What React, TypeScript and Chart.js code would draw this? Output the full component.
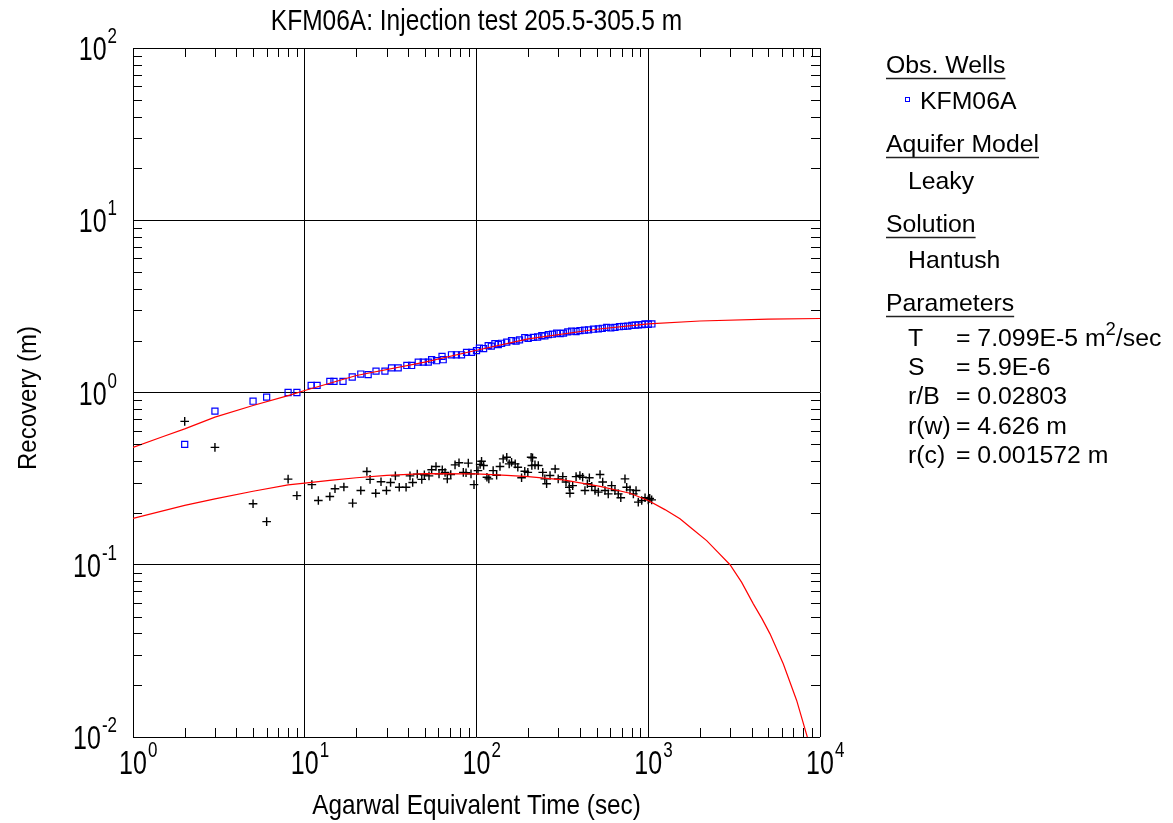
import React, { useEffect, useRef } from "react";
import { Chart, registerables } from "chart.js";

Chart.register(...registerables);

// ---------- data ----------
const obsTime = [
  2.0, 3.0, 5.0, 6.0, 8.0, 9.0, 10.9, 11.8, 14.0, 14.8, 16.7, 18.9, 21.2, 23.4, 26, 29.3, 32, 35,
  39.3, 41.9, 45.8, 49, 52.4, 54.8, 58.5, 63, 64, 71.5, 76.4, 81.8, 87.5, 93.6, 100, 104, 110, 117,
  122, 128, 134, 140, 150, 160, 170, 178, 191, 200, 214, 227, 240, 250, 262, 277, 293, 307, 321,
  340, 358, 380, 400, 425, 449, 480, 512, 540, 573, 605, 640, 680, 718, 760, 802, 840, 876, 920,
  958, 1000, 1050,
];
const obsRecovery = [
  0.5, 0.78, 0.89, 0.94, 1.0, 1.0, 1.1, 1.1, 1.16, 1.16, 1.16, 1.23, 1.28, 1.27, 1.33, 1.33, 1.39,
  1.39, 1.435, 1.435, 1.5, 1.5, 1.5, 1.55, 1.53, 1.62, 1.55, 1.655, 1.655, 1.655, 1.71, 1.71, 1.75,
  1.81, 1.8, 1.87, 1.86, 1.92, 1.9, 1.93, 1.96, 2.0, 1.99, 2.02, 2.08, 2.06, 2.09, 2.1, 2.14, 2.13,
  2.17, 2.18, 2.21, 2.2, 2.21, 2.25, 2.27, 2.26, 2.29, 2.3, 2.31, 2.33, 2.34, 2.36, 2.39, 2.37, 2.39,
  2.41, 2.42, 2.43, 2.45, 2.46, 2.47, 2.48, 2.5, 2.49, 2.5,
];

const derivTime = [
  2.0, 3.0, 5.0, 6.0, 8.0, 9.0, 11.0, 12.0, 14.0, 15.0, 16.9, 19.0, 21.2, 23.0, 24.0, 25.9, 27.8,
  29.9, 31.6, 33.7, 35.5, 38.9, 41, 42.5, 45.2, 48, 49.7, 52.9, 54.8, 58.1, 60.5, 63.2, 65.6, 67.6,
  70.8, 75, 79.1, 83.8, 86.9, 89.6, 92.9, 96.7, 102, 105, 107, 110, 115, 118, 125, 131, 137, 143,
  150, 155, 160, 168, 174, 183, 191, 199, 208, 210, 212, 219, 229, 243, 250, 256, 268, 287, 299,
  318, 332, 347, 350, 363, 380, 400, 415, 428, 442, 454, 469, 490, 512, 524, 543, 560, 585, 612,
  640, 669, 692, 732, 749, 783, 819, 849, 875, 916, 958, 1000, 1020, 1047,
];
const derivValue = [
  0.68, 0.48, 0.226, 0.178, 0.314, 0.252, 0.292, 0.236, 0.249, 0.276, 0.283, 0.228, 0.27, 0.348,
  0.313, 0.26, 0.303, 0.27, 0.3, 0.328, 0.282, 0.282, 0.328, 0.3, 0.336, 0.313, 0.333, 0.328, 0.356,
  0.372, 0.337, 0.356, 0.343, 0.315, 0.334, 0.38, 0.391, 0.344, 0.342, 0.389, 0.337, 0.292, 0.352,
  0.382, 0.399, 0.377, 0.322, 0.315, 0.352, 0.331, 0.372, 0.412, 0.421, 0.385, 0.394, 0.385, 0.368,
  0.32, 0.349, 0.344, 0.421, 0.377, 0.418, 0.38, 0.377, 0.344, 0.315, 0.295, 0.33, 0.36, 0.315,
  0.325, 0.302, 0.282, 0.26, 0.288, 0.325, 0.33, 0.322, 0.27, 0.295, 0.32, 0.285, 0.27, 0.264,
  0.334, 0.302, 0.27, 0.258, 0.288, 0.27, 0.258, 0.245, 0.315, 0.282, 0.272, 0.258, 0.27, 0.231,
  0.236, 0.245, 0.238, 0.243, 0.238,
];

const fitTime = [1, 1.5, 2, 3, 5, 8, 10, 20, 50, 100, 200, 500, 1000, 2000, 5000, 10000];
const fitRecovery = [0.48, 0.555, 0.615, 0.72, 0.84, 0.96, 1.027, 1.255, 1.5, 1.76, 2.05, 2.33, 2.5, 2.6, 2.67, 2.69];

const fitDerivTime = [
  1, 2, 3, 5, 8, 10, 14, 20, 30, 50, 100, 150, 200, 320, 524, 783, 1000, 1250, 1530, 1800, 2188,
  2550, 2993, 3500, 4090, 4600, 5116, 6110, 7313, 8433, 9200,
];
const fitDerivValue = [
  0.186, 0.221, 0.241, 0.267, 0.291, 0.298, 0.309, 0.32, 0.33, 0.338, 0.337, 0.33, 0.325, 0.311,
  0.285, 0.26, 0.236, 0.209, 0.185, 0.162, 0.138, 0.118, 0.1, 0.079, 0.0593, 0.0485, 0.0397,
  0.0266, 0.0163, 0.01, 0.0072,
];

const xDecades = [1, 10, 100, 1000, 10000];
const xExponents = ["0", "1", "2", "3", "4"];
const yDecades = [0.01, 0.1, 1, 10, 100];
const yExponents = ["-2", "-1", "0", "1", "2"];

const titleText = "KFM06A: Injection test 205.5-305.5 m";
const xAxisTitle = "Agarwal Equivalent Time (sec)";
const yAxisTitle = "Recovery (m)";
const wellNames = ["KFM06A"];
const aquiferModel = "Leaky";
const solutionName = "Hantush";
const paramNames = ["T", "S", "r/B", "r(w)", "r(c)"];
const paramValues = ["= 7.099E-5 m", "= 5.9E-6", "= 0.02803", "= 4.626 m", "= 0.001572 m"];
const paramSup = ["2", "", "", "", ""];
const paramSuffix = ["/sec", "", "", "", ""];

const FONT = '"Liberation Sans", Arial, sans-serif';

function txt(
  ctx: CanvasRenderingContext2D,
  text: string,
  x: number,
  y: number,
  size: number,
  sy: number,
  align: CanvasTextAlign
) {
  ctx.save();
  ctx.font = `${size}px ${FONT}`;
  ctx.textAlign = align;
  ctx.textBaseline = "alphabetic";
  ctx.fillStyle = "#000";
  ctx.translate(x, y);
  ctx.scale(1, sy);
  ctx.fillText(text, 0, 0);
  ctx.restore();
}

function width(ctx: CanvasRenderingContext2D, text: string, size: number) {
  ctx.save();
  ctx.font = `${size}px ${FONT}`;
  const w = ctx.measureText(text).width;
  ctx.restore();
  return w;
}

const decorPlugin = {
  id: "decor",
  afterDraw(chart: any) {
    const ctx: CanvasRenderingContext2D = chart.ctx;
    const xs = chart.scales.x;
    const ys = chart.scales.y;
    const a = chart.chartArea;

    // minor ticks (inside, all four sides)
    ctx.save();
    ctx.strokeStyle = "#000";
    ctx.lineWidth = 1;
    ctx.beginPath();
    const L = 9;
    for (let d = 0; d < xDecades.length - 1; d++) {
      for (let k = 2; k <= 9; k++) {
        const px = Math.round(xs.getPixelForValue(xDecades[d] * k)) + 0.5;
        ctx.moveTo(px, a.bottom);
        ctx.lineTo(px, a.bottom - L);
        ctx.moveTo(px, a.top);
        ctx.lineTo(px, a.top + L);
      }
    }
    for (let d = 0; d < yDecades.length - 1; d++) {
      for (let k = 2; k <= 9; k++) {
        const py = Math.round(ys.getPixelForValue(yDecades[d] * k)) + 0.5;
        ctx.moveTo(a.left, py);
        ctx.lineTo(a.left + L, py);
        ctx.moveTo(a.right, py);
        ctx.lineTo(a.right - L, py);
      }
    }
    ctx.stroke();
    ctx.restore();

    // x tick labels
    xDecades.forEach((v, i) => {
      const px = xs.getPixelForValue(v);
      const w10 = width(ctx, "10", 25);
      txt(ctx, "10", px, 774, 25, 1.35, "center");
      txt(ctx, xExponents[i], px + w10 / 2 + 1, 757, 17, 1.3, "left");
    });
    // y tick labels
    yDecades.forEach((v, i) => {
      const py = ys.getPixelForValue(v);
      const right = 117;
      const we = width(ctx, yExponents[i], 17);
      txt(ctx, yExponents[i], right, py - 5, 17, 1.3, "right");
      txt(ctx, "10", right - we - 1, py + 12, 25, 1.35, "right");
    });

    // title and axis titles
    const cx = (a.left + a.right) / 2;
    txt(ctx, titleText, cx, 30, 24.5, 1.2, "center");
    txt(ctx, xAxisTitle, cx, 814, 24.3, 1.1, "center");
    ctx.save();
    ctx.translate(36, 398);
    ctx.rotate(-Math.PI / 2);
    txt(ctx, yAxisTitle, 0, 0, 24, 1.05, "center");
    ctx.restore();

    // legend / info panel
    const FS = 24.8;
    const lx = 886;
    const ix = 908;
    const heading = (t: string, y: number) => {
      txt(ctx, t, lx, y, FS, 1, "left");
      const w = width(ctx, t, FS);
      ctx.save();
      ctx.strokeStyle = "#222";
      ctx.lineWidth = 1.5;
      ctx.beginPath();
      ctx.moveTo(lx, y + 5.5);
      ctx.lineTo(lx + w, y + 5.5);
      ctx.stroke();
      ctx.restore();
    };
    heading("Obs. Wells", 73);
    wellNames.forEach((n, i) => {
      const y = 109 + i * 29;
      ctx.save();
      ctx.strokeStyle = "#0000ff";
      ctx.lineWidth = 1;
      ctx.strokeRect(905.5, y - 11.5, 4, 4);
      ctx.restore();
      txt(ctx, n, 920, y, FS, 1, "left");
    });
    heading("Aquifer Model", 152);
    txt(ctx, aquiferModel, ix, 189, FS, 1, "left");
    heading("Solution", 232);
    txt(ctx, solutionName, ix, 268, FS, 1, "left");
    heading("Parameters", 311);
    paramNames.forEach((n, i) => {
      const y = 346 + i * 29.2;
      txt(ctx, n, ix, y, FS, 1, "left");
      txt(ctx, paramValues[i], 956, y, FS, 1, "left");
      let xx = 956 + width(ctx, paramValues[i], FS);
      if (paramSup[i]) {
        txt(ctx, paramSup[i], xx, y - 11, 18.5, 1, "left");
        xx += width(ctx, paramSup[i], 18.5);
      }
      if (paramSuffix[i]) txt(ctx, paramSuffix[i], xx, y, FS, 1, "left");
    });
  },
};

export default function App() {
  const ref = useRef<HTMLCanvasElement | null>(null);
  useEffect(() => {
    if (!ref.current) return;
    const pts = (xa: number[], ya: number[]) => xa.map((x, i) => ({ x, y: ya[i] }));
    const chart = new Chart(ref.current, {
      type: "scatter",
      data: {
        datasets: [
          {
            data: pts(fitTime, fitRecovery),
            showLine: true,
            borderColor: "#ff0000",
            borderWidth: 1.2,
            pointRadius: 0,
            tension: 0,
          },
          {
            data: pts(fitDerivTime, fitDerivValue),
            showLine: true,
            borderColor: "#ff0000",
            borderWidth: 1.2,
            pointRadius: 0,
            tension: 0,
          },
          {
            data: pts(obsTime, obsRecovery),
            pointStyle: "rect",
            pointRadius: 4.3,
            borderColor: "#0000ff",
            backgroundColor: "rgba(0,0,0,0)",
            borderWidth: 1.2,
          },
          {
            data: pts(derivTime, derivValue),
            pointStyle: "cross",
            pointRadius: 4.3,
            borderColor: "#000",
            backgroundColor: "#000",
            borderWidth: 1.4,
          },
        ],
      } as any,
      options: {
        responsive: false,
        devicePixelRatio: 1,
        animation: false,
        events: [],
        layout: { padding: { left: 133, top: 48, right: 353, bottom: 86 } },
        plugins: { legend: { display: false }, tooltip: { enabled: false }, title: { display: false } },
        scales: {
          x: {
            type: "logarithmic",
            min: 1,
            max: 10000,
            afterBuildTicks: (s: any) => {
              s.ticks = xDecades.map((v) => ({ value: v }));
            },
            afterFit: (s: any) => {
              s.height = 0;
            },
            ticks: { display: false },
            grid: { color: "#000", lineWidth: 1, drawTicks: false },
            border: { display: false },
          },
          y: {
            type: "logarithmic",
            min: 0.01,
            max: 100,
            afterBuildTicks: (s: any) => {
              s.ticks = yDecades.map((v) => ({ value: v }));
            },
            afterFit: (s: any) => {
              s.width = 0;
            },
            ticks: { display: false },
            grid: { color: "#000", lineWidth: 1, drawTicks: false },
            border: { display: false },
          },
        },
      } as any,
      plugins: [decorPlugin],
    });
    return () => chart.destroy();
  }, []);
  return (
    <div style={{ position: "absolute", left: 0, top: 0, width: 1173, height: 823, background: "#fff" }}>
      <canvas ref={ref} width={1173} height={823} style={{ display: "block" }} />
    </div>
  );
}
